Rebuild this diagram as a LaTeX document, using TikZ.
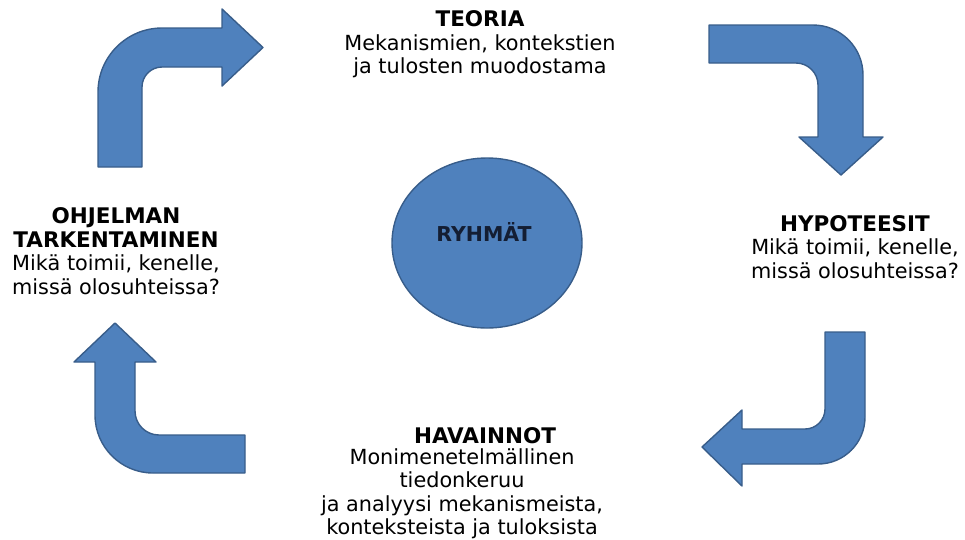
\documentclass[tikz,border=0pt]{standalone}
\usepackage{fontspec}
\usetikzlibrary{shapes.geometric}
\setmainfont{DejaVu Sans}
\definecolor{arrowfill}{HTML}{4F81BD}
\definecolor{arrowline}{HTML}{385D8A}
\definecolor{labeltext}{HTML}{141E33}
\newcommand{\hdr}[1]{{\fontsize{21.5}{23.5}\selectfont\bfseries #1}}
\begin{document}
\begin{tikzpicture}[x=1pt,y=-1pt,
  bentarrow/.style={fill=arrowfill,draw=arrowline,line width=1.4pt,line join=round},
  blocktext/.style={align=center,inner sep=0pt,font=\fontsize{20.8}{23.5}\selectfont}]
\useasboundingbox (0,0) rectangle (965,539);
% top-left arrow: up then right
\draw[bentarrow] (98,167) -- (98,92) .. controls (98,56.7) and (126.7,28) .. (162,28)
  -- (222,28) -- (222,9) -- (263,47.5) -- (222,86) -- (222,67) -- (162,67)
  .. controls (151,67) and (142,76) .. (142,87) -- (142,167) -- cycle;
% top-right arrow: right then down
\draw[bentarrow] (709,25) -- (813,25) .. controls (840.6,25) and (863,47.4) .. (863,75)
  -- (863,137) -- (883,137) -- (841,175) -- (799,137) -- (818,137) -- (818,85)
  .. controls (818,72.9) and (808.1,63) .. (796,63) -- (709,63) -- cycle;
% bottom-right arrow: down then left
\draw[bentarrow] (825,332) -- (865,332) -- (865,417) .. controls (865,443) and (844,464) .. (818,464)
  -- (742,464) -- (742,486) -- (702,447) -- (742,410) -- (742,429) -- (805,429)
  .. controls (816,429) and (825,420) .. (825,409) -- cycle;
% bottom-left arrow: left then up
\draw[bentarrow] (245,435) -- (159,435) .. controls (145.75,435) and (135,424.25) .. (135,411)
  -- (135,362) -- (156,362) -- (115,323) -- (74,362) -- (95,362) -- (95,415)
  .. controls (95,447) and (121,473) .. (153,473) -- (245,473) -- cycle;
% centre
\node[ellipse,fill=arrowfill,draw=arrowline,line width=1.4pt,minimum width=190pt,minimum height=170pt,inner sep=0pt] (ryhmat) at (487,243) {};
\node[inner sep=0pt,text=labeltext,font=\fontsize{20.5}{24}\selectfont\bfseries] (ryhmatlabel) at (484,232) {RYHMÄT};
% texts
\node[blocktext] (teoria) at (480,44.5) {\hdr{TEORIA}\\Mekanismien, kontekstien\\ja tulosten muodostama};
\node[blocktext] (hypoteesit) at (855,247) {\hdr{HYPOTEESIT}\\Mikä toimii, kenelle,\\missä olosuhteissa?};
\node[blocktext] (ohjelman) at (116,251) {\hdr{OHJELMAN}\\\hdr{TARKENTAMINEN}\\Mikä toimii, kenelle,\\missä olosuhteissa?};
\node[blocktext] (havainnot) at (485,436) {\hdr{HAVAINNOT}};
\node[blocktext] (havbody) at (462,493.5) {Monimenetelmällinen\\tiedonkeruu\\ja analyysi mekanismeista,\\konteksteista ja tuloksista};
\end{tikzpicture}
\end{document}
